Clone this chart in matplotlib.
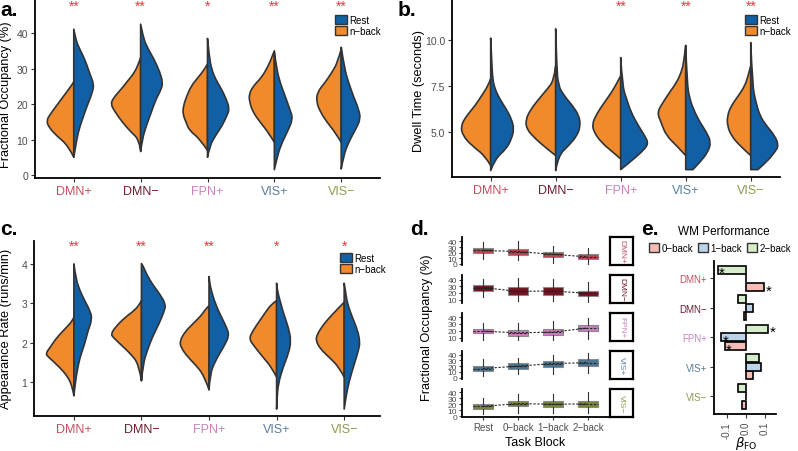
import numpy as np
import matplotlib
matplotlib.use("Agg")
import matplotlib.pyplot as plt
from matplotlib.path import Path
from matplotlib.patches import PathPatch, Patch

plt.rcParams["font.family"] = ["Liberation Sans", "DejaVu Sans"]
plt.rcParams["mathtext.fontset"] = "dejavusans"

# ---------------- data ----------------
networks = ["DMN+", "DMN\u2212", "FPN+", "VIS+", "VIS\u2212"]
net_colors = ["#C64F5F", "#6E1E2D", "#C883BE", "#5A7D9B", "#8C9B50"]
box_colors = ["#B84450", "#6B1522", "#C77FBD", "#4B7490", "#76863A"]

# violin outlines: (value, half width) pairs
fo_nback = [
    [(5.0, 0), (8.3, .085), (11.1, .26), (13.4, .37), (15.3, .41), (17.2, .35), (20.5, .22), (23.3, .11), (25.6, .02), (26.3, 0)],
    [(7.0, 0), (10.1, .03), (12.0, .14), (14.8, .27), (17.7, .38), (20.0, .45), (21.9, .40), (24.2, .29), (26.6, .19), (28.9, .09), (31.7, .025), (33.1, 0)],
    [(6.9, 0), (10.1, .11), (12.5, .27), (14.8, .32), (17.2, .37), (19.5, .36), (22.3, .31), (25.2, .24), (27.5, .14), (29.9, .04), (31.3, 0)],
    [(9.2, 0), (12.0, .09), (14.8, .21), (17.7, .32), (20.5, .37), (22.8, .38), (25.2, .31), (27.5, .19), (30.8, .09), (33.1, .04), (35.0, 0)],
    [(9.2, 0), (12.0, .09), (14.8, .21), (17.7, .31), (20.5, .37), (23.3, .36), (26.1, .24), (28.9, .14), (31.7, .055), (35.5, 0)],
]
fo_rest = [
    [(5.0, 0), (8.3, .03), (12.0, .065), (15.8, .13), (19.5, .20), (23.3, .28), (25.6, .30), (28.0, .25), (30.8, .20), (33.6, .14), (36.4, .065), (38.3, .03), (41.1, 0)],
    [(6.6, 0), (10.1, .025), (13.9, .085), (17.7, .16), (21.4, .23), (24.2, .31), (26.1, .33), (28.9, .29), (32.7, .20), (36.4, .085), (39.2, .035), (42.5, 0)],
    [(5.0, 0), (8.3, .035), (11.1, .12), (13.9, .22), (16.7, .29), (18.6, .33), (21.4, .28), (24.2, .21), (27.0, .12), (29.9, .06), (33.6, .025), (38.5, 0)],
    [(1.5, 0), (4.5, .035), (8.3, .095), (12.0, .19), (15.8, .28), (18.6, .23), (22.3, .16), (26.1, .085), (29.9, .035), (34.6, 0)],
    [(1.7, 0), (5.4, .035), (9.2, .11), (13.0, .22), (15.8, .29), (18.6, .26), (22.3, .18), (26.1, .11), (29.9, .05), (36.0, 0)],
]
dt_nback = [
    [(3.2, 0), (3.74, .09), (4.28, .29), (4.82, .43), (5.36, .46), (5.9, .37), (6.44, .24), (6.98, .14), (7.52, .04), (7.9, 0)],
    [(3.74, 0), (4.1, .13), (4.64, .31), (5.18, .45), (5.72, .46), (6.26, .38), (6.8, .26), (7.34, .13), (7.8, .03), (8.6, 0)],
    [(3.56, 0), (3.92, .12), (4.46, .30), (5.0, .41), (5.45, .44), (5.99, .37), (6.53, .27), (7.16, .14), (7.79, .04), (8.06, 0)],
    [(3.74, 0), (4.28, .14), (4.82, .30), (5.54, .38), (6.08, .44), (6.62, .35), (7.16, .25), (7.7, .14), (8.24, .07), (8.78, .03), (9.7, 0)],
    [(3.74, 0), (4.28, .17), (4.82, .30), (5.36, .36), (5.9, .36), (6.44, .30), (6.98, .19), (7.52, .09), (8.06, .04), (8.6, 0)],
]
dt_rest = [
    [(2.93, 0), (3.56, .067), (4.1, .24), (4.64, .32), (5.18, .36), (5.72, .32), (6.26, .24), (6.8, .14), (7.34, .067), (7.88, .03), (8.96, .015), (10.1, 0)],
    [(2.93, 0), (3.74, .04), (4.28, .20), (4.82, .33), (5.36, .38), (5.9, .36), (6.44, .26), (6.98, .13), (7.52, .04), (8.6, .015), (10.6, 0)],
    [(2.98, 0), (3.38, .14), (3.92, .32), (4.37, .43), (4.82, .37), (5.36, .27), (6.08, .16), (6.8, .09), (7.52, .026), (9.05, 0)],
    [(2.98, .11), (3.38, .22), (3.92, .34), (4.46, .39), (5.0, .32), (5.54, .22), (6.08, .14), (6.8, .06), (7.7, .02), (9.7, 0)],
    [(2.98, .11), (3.38, .24), (3.92, .37), (4.28, .43), (4.82, .37), (5.36, .24), (5.9, .14), (6.62, .08), (7.52, .026), (9.86, 0)],
]
ar_nback = [
    [(0.66, 0), (0.87, .02), (1.13, .085), (1.38, .21), (1.63, .37), (1.72, .42), (1.89, .35), (2.14, .25), (2.39, .11), (2.56, .02), (2.65, 0)],
    [(1.04, 0), (1.46, .04), (1.72, .16), (1.93, .29), (2.14, .42), (2.22, .45), (2.39, .39), (2.65, .24), (2.81, .11), (2.98, .025), (3.07, 0)],
    [(0.81, 0), (1.13, .065), (1.38, .165), (1.63, .31), (1.89, .42), (2.05, .43), (2.27, .36), (2.48, .24), (2.69, .115), (2.86, .05), (2.94, 0)],
    [(1.13, 0), (1.38, .075), (1.63, .20), (1.89, .32), (2.1, .41), (2.31, .35), (2.56, .25), (2.81, .15), (2.98, .075), (3.07, 0)],
    [(1.13, 0), (1.38, .075), (1.63, .22), (1.84, .35), (2.05, .42), (2.22, .40), (2.48, .30), (2.73, .17), (2.94, .05), (3.03, 0)],
]
ar_rest = [
    [(0.66, 0), (0.96, .02), (1.3, .05), (1.63, .09), (1.97, .16), (2.31, .21), (2.6, .27), (2.81, .24), (3.07, .16), (3.32, .09), (3.62, .03), (4.0, 0)],
    [(1.04, 0), (1.46, .025), (1.8, .085), (2.14, .16), (2.48, .26), (2.81, .34), (2.98, .36), (3.24, .27), (3.49, .16), (3.74, .075), (3.95, .025), (4.01, 0)],
    [(0.81, 0), (1.21, .015), (1.55, .095), (1.89, .215), (2.18, .30), (2.39, .26), (2.65, .185), (2.98, .095), (3.32, .035), (3.49, .012), (3.68, 0)],
    [(0.32, 0), (0.62, .008), (0.96, .025), (1.38, .095), (1.72, .175), (2.05, .215), (2.39, .175), (2.73, .105), (3.07, .05), (3.32, .012), (3.51, 0)],
    [(0.32, 0), (0.62, .025), (1.04, .075), (1.46, .15), (1.8, .21), (2.01, .235), (2.31, .20), (2.65, .12), (2.98, .05), (3.24, .025), (3.51, 0)],
]
fo_stars = ["**", "**", "*", "**", "**"]
dt_stars = ["", "", "**", "**", "**"]
ar_stars = ["**", "**", "**", "*", "*"]

# panel d: box summaries per network (Rest, 0-back, 1-back, 2-back)
blocks = ["Rest", "0\u2212back", "1\u2212back", "2\u2212back"]
d_med = [[24, 22, 17, 12.5], [28, 22.5, 23, 19.5], [19.5, 17, 18, 24], [16, 20, 24.5, 26], [16.5, 21, 20, 20.5]]
d_q1 = [[19, 16.2, 12.5, 8], [23.7, 17.2, 17.5, 16.1], [16, 12, 13.5, 19.5], [12, 15.7, 18.4, 20], [12.6, 16.3, 15.8, 15.3]]
d_q3 = [[27.5, 26, 20.6, 16.8], [32.4, 28.9, 28.5, 23.7], [23, 21, 22, 28.5], [21, 25, 29.5, 31.6], [20.5, 25.8, 24.8, 25.8]]
d_lo = [[8, 7, 1.6, 0], [13.7, 7.6, 8, 5], [7, 4.5, 4, 8.5], [3, 6.7, 6.7, 8], [4.7, 5.8, 6, 5]]
d_hi = [[38.4, 40.5, 31.4, 27.5], [41.5, 42.6, 40.5, 36.5], [32, 32, 34.5, 38], [32, 34.8, 40, 42], [31, 37.5, 37.5, 40]]

# panel e: WM performance betas
wm_0back = [0.095, -0.008, -0.112, 0.035, -0.019]
wm_1back = [0.002, 0.038, -0.13, 0.078, 0.002]
wm_2back = [-0.147, -0.043, 0.116, 0.069, -0.043]
sig_0back = [1, 0, 1, 0, 0]
sig_1back = [0, 0, 1, 0, 0]
sig_2back = [1, 0, 1, 0, 0]

BLUE = "#1160A6"
ORANGE = "#F08A2C"
EDGE = "#333333"
GRAY = "#4D4D4D"
STAR_RED = "#E8383D"

W, H = 798, 452
fig = plt.figure(figsize=(W / 100, H / 100), dpi=100)


def px_axes(l, t, r, b):
    return fig.add_axes([l / W, 1 - b / H, (r - l) / W, (b - t) / H])


def half_violin(ax, pos, prof, side, color):
    pts = [(pos + side * w, y) for y, w in prof]
    verts = [(pos, prof[0][0]), pts[0]]
    codes = [Path.MOVETO, Path.LINETO]
    n = len(pts)
    for i in range(1, n - 1):
        if i == n - 2:
            nxt = pts[i + 1]
        else:
            nxt = ((pts[i][0] + pts[i + 1][0]) / 2, (pts[i][1] + pts[i + 1][1]) / 2)
        verts += [pts[i], nxt]
        codes += [Path.CURVE3, Path.CURVE3]
    verts += [(pos, prof[-1][0]), (pos, prof[0][0])]
    codes += [Path.LINETO, Path.CLOSEPOLY]
    ax.add_patch(PathPatch(Path(verts, codes), fc=color, ec=EDGE, lw=1.2,
                           joinstyle="round"))


def violin_panel(rect, nback, rest, stars, star_y, xlim, ylim, yticks, yticklabels,
                 ylabel, ylabel_xy, legend_xy):
    ax = px_axes(*rect)
    for i in range(5):
        half_violin(ax, i + 1, nback[i], -1, ORANGE)
        half_violin(ax, i + 1, rest[i], 1, BLUE)
        ax.text(i + 1, star_y, stars[i], color=STAR_RED, ha="center", va="center",
                fontsize=10)
    ax.set_xlim(*xlim)
    ax.set_ylim(*ylim)
    ax.set_xticks(range(1, 6))
    ax.set_xticklabels(networks, fontsize=9)
    for lab, c in zip(ax.get_xticklabels(), net_colors):
        lab.set_color(c)
    ax.set_yticks(yticks)
    ax.set_yticklabels(yticklabels, fontsize=7.5, color=GRAY)
    fig.text(ylabel_xy[0] / W, 1 - ylabel_xy[1] / H, ylabel, rotation=90,
             ha="center", va="center", fontsize=9.2)
    for s in ["top", "right"]:
        ax.spines[s].set_visible(False)
    for s in ["left", "bottom"]:
        ax.spines[s].set_linewidth(1.3)
    ax.tick_params(length=3, width=0.8, color=EDGE, pad=2)
    handles = [Patch(fc=BLUE, ec=EDGE, lw=1.0, label="Rest"),
               Patch(fc=ORANGE, ec=EDGE, lw=1.0, label="n\u2212back")]
    fig.legend(handles=handles, loc="upper left",
               bbox_to_anchor=(legend_xy[0] / W, 1 - legend_xy[1] / H),
               frameon=False, fontsize=7, handlelength=1.2, handleheight=1.0,
               handletextpad=0.3, labelspacing=0.12, borderpad=0, borderaxespad=0)
    return ax


# ---------------- panels a, b, c ----------------
violin_panel((35, 0, 380, 179), fo_nback, fo_rest, fo_stars, 47.6, (0.42, 5.58),
             (-0.85, 49.6), [0, 10, 20, 30, 40], ["0", "10", "20", "30", "40"],
             "Fractional Occupancy (%)", (6, 95), (335, 16))
violin_panel((452, 0, 780, 178), dt_nback, dt_rest, dt_stars, 11.86, (0.405, 5.45),
             (2.58, 12.22), [5.0, 7.5, 10.0], ["5.0", "7.5", "10.0"],
             "Dwell Time (seconds)", (419, 91), (745, 16))
violin_panel((34, 242, 380, 417), ar_nback, ar_rest, ar_stars, 4.46, (0.41, 5.53),
             (0.145, 4.58), [1, 2, 3, 4], ["1", "2", "3", "4"],
             "Appearance Rate (runs/min)", (6.5, 329), (340, 254))

# ---------------- panel d ----------------
row_tops = [238, 276, 314, 352, 390]
row_ylims = [(-2, 48), (5, 47), (5, 46), (-2, 46), (-1, 45)]
row_ticks = [[0, 10, 20, 30, 40], [10, 20, 30, 40], [10, 20, 30, 40],
             [0, 10, 20, 30, 40], [0, 10, 20, 30, 40]]
for r in range(5):
    ax = px_axes(462, row_tops[r], 609, row_tops[r] + 28)
    stats = [dict(med=d_med[r][j], q1=d_q1[r][j], q3=d_q3[r][j],
                  whislo=d_lo[r][j], whishi=d_hi[r][j]) for j in range(4)]
    ax.bxp(stats, positions=range(1, 5), widths=0.55, patch_artist=True,
           showfliers=False, showcaps=False,
           boxprops=dict(fc=box_colors[r], ec="#8A8A8A", lw=0.8),
           medianprops=dict(color="#222222", lw=0.8, ls=(0, (2, 1.5))),
           whiskerprops=dict(color="#333333", lw=0.8))
    ax.plot(range(1, 5), d_med[r], ls=(0, (2, 1.5)), color="#222222", lw=0.8, zorder=3)
    ax.set_xlim(0.4, 4.6)
    ax.set_ylim(*row_ylims[r])
    ax.set_yticks(row_ticks[r])
    ax.set_yticklabels([str(t) for t in row_ticks[r]], fontsize=6, color=GRAY)
    for s in ["top", "right"]:
        ax.spines[s].set_visible(False)
    ax.spines["left"].set_linewidth(1.3)
    ax.tick_params(length=2.5, width=0.8, color=EDGE, pad=1)
    if r < 4:
        ax.spines["bottom"].set_visible(False)
        ax.set_xticks([])
    else:
        ax.spines["bottom"].set_linewidth(1.3)
        ax.set_xticks(range(1, 5))
        ax.set_xticklabels(blocks, fontsize=7, color=GRAY)
        ax.set_xlabel("Task Block", fontsize=9, labelpad=3)
    sax = px_axes(610, row_tops[r], 633, row_tops[r] + 28)
    sax.set_xticks([])
    sax.set_yticks([])
    for s in sax.spines.values():
        s.set_linewidth(1.6)
    sax.text(0.5, 0.5, networks[r], rotation=-90, ha="center", va="center",
             fontsize=6, color=net_colors[r], transform=sax.transAxes)

fig.text(427 / W, 1 - 328 / H, "Fractional Occupancy (%)", rotation=90,
         ha="center", va="center", fontsize=9.2)

# ---------------- panel e ----------------
eax = px_axes(714, 262, 776, 415)
ypos = np.arange(5)
e_fills = ["#F6BDB6", "#BCD3EA", "#D5EDCB"]
e_sets = [(wm_0back, sig_0back, 0.29), (wm_1back, sig_1back, 0.0), (wm_2back, sig_2back, -0.29)]
for (vals, sig, off), fc in zip(e_sets, e_fills):
    eax.barh(ypos + off, vals, height=0.28, color=fc, edgecolor="black", lw=1.2)
    for k in range(5):
        if sig[k]:
            eax.text(vals[k] + 0.022, ypos[k] + off + 0.12, "*", ha="center",
                     va="center", fontsize=11)
eax.set_xlim(-0.167, 0.157)
eax.set_ylim(4.6, -0.586)
eax.set_yticks(ypos)
eax.set_yticklabels(networks, fontsize=7)
for lab, c in zip(eax.get_yticklabels(), net_colors):
    lab.set_color(c)
eax.set_xticks([-0.1, 0.0, 0.1])
eax.set_xticklabels(["-0.1", "0.0", "0.1"], rotation=90, fontsize=7, color=GRAY)
for s in ["top", "right"]:
    eax.spines[s].set_visible(False)
for s in ["left", "bottom"]:
    eax.spines[s].set_linewidth(1.3)
eax.tick_params(length=3, width=0.8, color=EDGE, pad=2)
fig.text(746 / W, 1 - 444 / H, r"$\beta_{\mathrm{FO}}$", ha="center", va="center",
         fontsize=9.5)

e_handles = [Patch(fc=e_fills[0], ec=EDGE, lw=1.0, label="0\u2212back"),
             Patch(fc=e_fills[1], ec=EDGE, lw=1.0, label="1\u2212back"),
             Patch(fc=e_fills[2], ec=EDGE, lw=1.0, label="2\u2212back")]
fig.legend(handles=e_handles, loc="center left", ncol=3,
           bbox_to_anchor=(649 / W, 1 - 249 / H), frameon=False, fontsize=7,
           handlelength=1.0, handleheight=1.0, handletextpad=0.3,
           columnspacing=0.5, borderpad=0, borderaxespad=0)
fig.text(678 / W, 1 - 235 / H, "WM Performance", fontsize=8.5, va="baseline")

# panel letters
for lab, x, y in [("a.", 0, 16), ("b.", 398, 16), ("c.", 0, 235), ("d.", 410, 235),
                  ("e.", 641, 235)]:
    fig.text(x / W, 1 - y / H, lab, fontsize=15, fontweight="bold", va="baseline")

fig.savefig("out.png", dpi=100)
